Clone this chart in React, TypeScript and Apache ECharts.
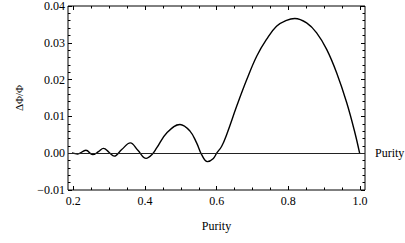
import React, { useEffect, useRef } from "react";
import * as echarts from "echarts";

const purity = [0.196, 0.212, 0.235, 0.254, 0.27, 0.284, 0.3, 0.314, 0.335, 0.359, 0.38, 0.403, 0.419, 0.433, 0.4605, 0.4976, 0.5255, 0.544, 0.558, 0.574, 0.59, 0.6, 0.614, 0.628, 0.656, 0.684, 0.712, 0.739, 0.767, 0.795, 0.818, 0.851, 0.879, 0.907, 0.935, 0.963, 0.986, 0.999];
const deltaPhi = [0.0001, -0.0002, 0.0008, -0.0004, 0.0004, 0.0013, 0.0002, -0.0008, 0.001, 0.0028, 0.0008, -0.0014, -0.0004, 0.0015, 0.0055, 0.0078, 0.006, 0.0028, -0.0004, -0.0023, -0.0015, 0.0, 0.0019, 0.0051, 0.0128, 0.02, 0.0264, 0.0309, 0.0345, 0.0361, 0.0366, 0.0354, 0.0327, 0.0282, 0.0218, 0.0137, 0.0055, 0.0];

const xMajorTicks = [0.2, 0.4, 0.6, 0.8, 1.0];
const xMinorTicks = [0.25, 0.3, 0.35, 0.45, 0.5, 0.55, 0.65, 0.7, 0.75, 0.85, 0.9, 0.95];
const yMajorTicks = [-0.01, 0, 0.01, 0.02, 0.03, 0.04];
const yMinorTicks = [-0.008, -0.006, -0.004, -0.002, 0.002, 0.004, 0.006, 0.008, 0.012, 0.014, 0.016, 0.018, 0.022, 0.024, 0.026, 0.028, 0.032, 0.034, 0.036, 0.038];

const X_MIN = 0.185;
const X_MAX = 1.014;
const Y_MIN = -0.01;
const Y_MAX = 0.04;

const FONT = "Liberation Serif";

export default function App() {
  const ref = useRef<HTMLDivElement>(null);
  useEffect(() => {
    const chart = echarts.init(ref.current!, null, { renderer: "svg" });
    const gridRect = { left: 68, right: 40, top: 6, bottom: 53 };
    const tickStyle = { color: "#000", width: 1 };
    const mkX = (gridIndex: number, position: string, ticks: number[], len: number, labels: boolean, extra: any = {}) => ({
      type: "value",
      gridIndex,
      position,
      min: X_MIN,
      max: X_MAX,
      axisLine: { show: false, onZero: false },
      splitLine: { show: false },
      axisTick: { show: true, inside: true, length: len, customValues: ticks, lineStyle: tickStyle },
      axisLabel: labels
        ? {
            show: true,
            customValues: ticks,
            margin: 5,
            color: "#000",
            fontFamily: FONT,
            fontSize: 12,
            formatter: (v: number) => v.toFixed(1),
          }
        : { show: false },
      ...extra,
    });
    const mkY = (gridIndex: number, position: string, ticks: number[], len: number, labels: boolean, extra: any = {}) => ({
      type: "value",
      gridIndex,
      position,
      min: Y_MIN,
      max: Y_MAX,
      axisLine: { show: false, onZero: false },
      splitLine: { show: false },
      axisTick: { show: true, inside: true, length: len, customValues: ticks, lineStyle: tickStyle },
      axisLabel: labels
        ? {
            show: true,
            customValues: ticks,
            margin: 3,
            color: "#000",
            fontFamily: FONT,
            fontSize: 12,
            formatter: (v: number) => (v < 0 ? "\u2212" + Math.abs(v).toFixed(2) : v.toFixed(2)),
          }
        : { show: false },
      ...extra,
    });
    chart.setOption({
      animation: false,
      backgroundColor: "#fff",
      grid: [
        { ...gridRect, show: true, borderColor: "#000", borderWidth: 1, backgroundColor: "transparent" },
        { ...gridRect, show: false },
      ],
      xAxis: [
        mkX(0, "bottom", xMajorTicks, 4, true, {
          name: "Purity",
          nameLocation: "middle",
          nameGap: 30,
          nameTextStyle: { color: "#000", fontFamily: FONT, fontSize: 12 },
        }),
        mkX(0, "top", xMajorTicks, 4, false),
        mkX(1, "bottom", xMinorTicks, 2.5, false),
        mkX(1, "top", xMinorTicks, 2.5, false),
      ],
      yAxis: [
        mkY(0, "left", yMajorTicks, 4, true, {
          name: "\u0394\u03a6/\u03a6",
          nameLocation: "middle",
          nameGap: 44,
          nameRotate: 90,
          nameTextStyle: { color: "#000", fontFamily: FONT, fontSize: 11 },
        }),
        mkY(0, "right", yMajorTicks, 4, false),
        mkY(1, "left", yMinorTicks, 2.5, false),
        mkY(1, "right", yMinorTicks, 2.5, false),
      ],
      series: [
        {
          type: "line",
          xAxisIndex: 0,
          yAxisIndex: 0,
          data: purity.map((p, i) => [p, deltaPhi[i]]),
          showSymbol: false,
          smooth: 0.4,
          lineStyle: { color: "#000", width: 1.4 },
          markLine: {
            silent: true,
            symbol: "none",
            animation: false,
            lineStyle: { color: "#222", width: 1, type: "solid" },
            label: {
              show: true,
              position: "end",
              distance: 10,
              formatter: "Purity",
              color: "#000",
              fontFamily: FONT,
              fontSize: 12,
            },
            data: [{ yAxis: 0 }],
          },
        },
      ],
    });
    return () => chart.dispose();
  }, []);
  return (
    <div
      ref={ref}
      style={{ position: "fixed", left: 0, top: 0, width: 405, height: 243, background: "#fff" }}
    />
  );
}
